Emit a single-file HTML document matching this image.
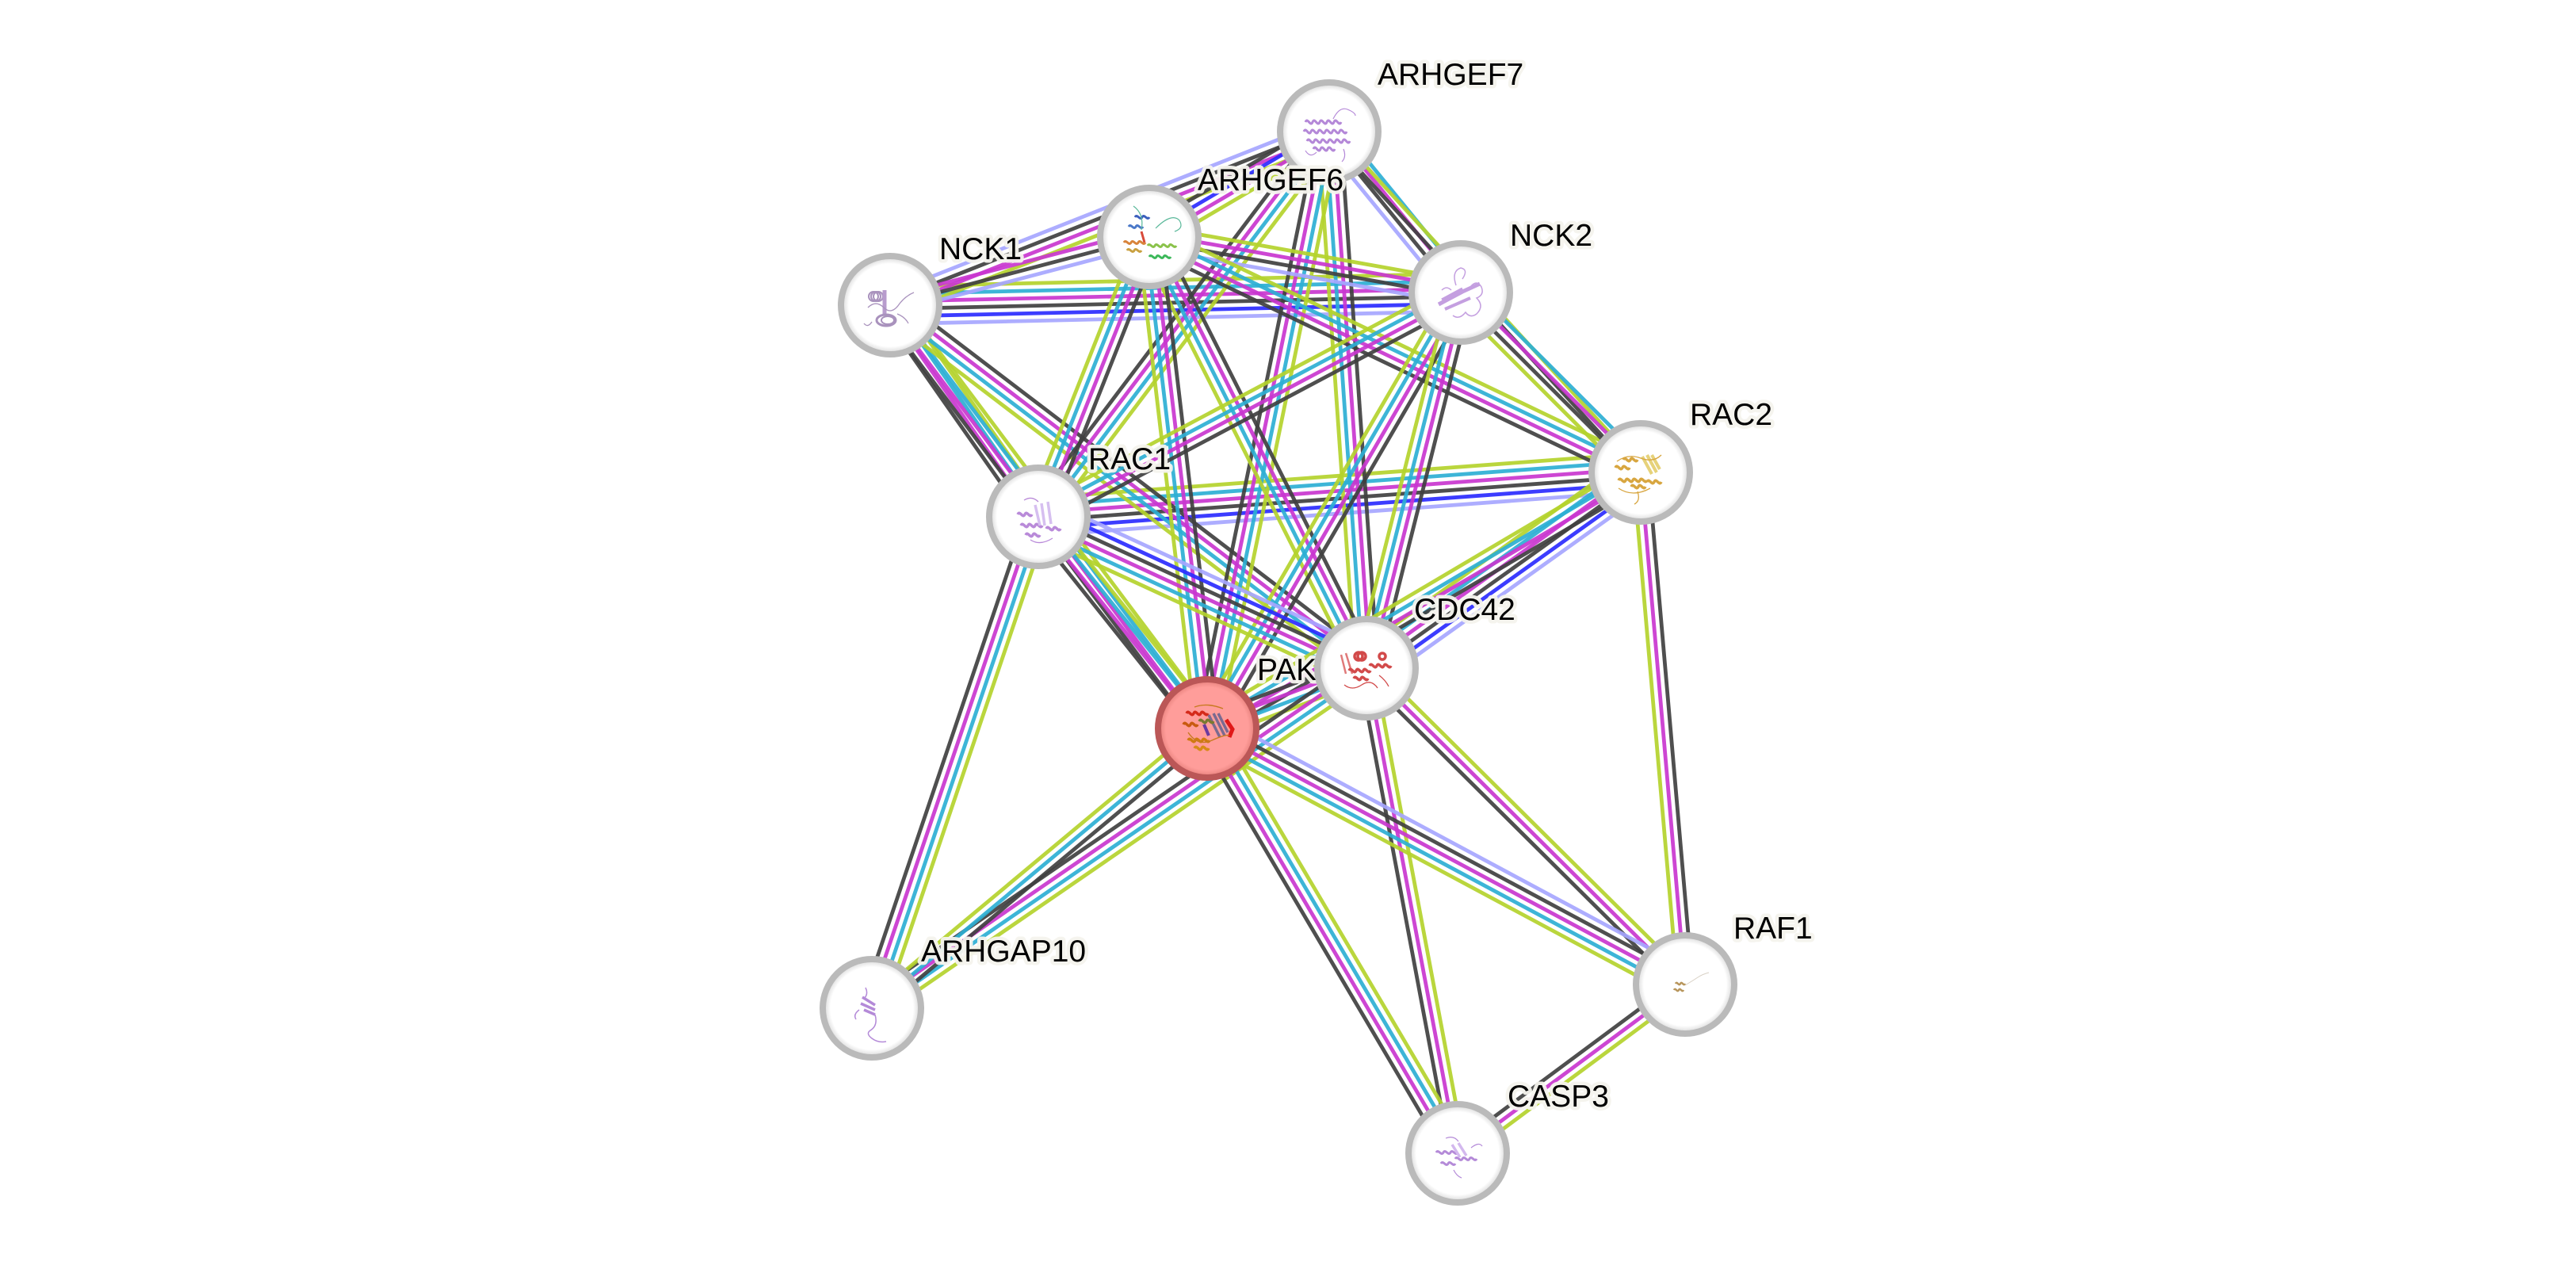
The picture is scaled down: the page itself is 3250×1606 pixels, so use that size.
<!DOCTYPE html>
<html>
<head>
<meta charset="utf-8">
<style>
  html,body{margin:0;padding:0;background:#fff;}
  svg{display:block;}
  line{stroke-width:4.8;stroke-opacity:0.92;}
  .k{stroke:#404040;}
  .m{stroke:#c936cf;}
  .c{stroke:#2dafd4;}
  .y{stroke:#b4d22c;}
  .b{stroke:#2b2bff;}
  .l{stroke:#a6a6ff;}
  .node{stroke:#bababa;stroke-width:8;fill:url(#gw);}
  .qnode{stroke:#bb5757;stroke-width:8;fill:url(#gp);}
  .lbl{font-family:"Liberation Sans",Arial,sans-serif;font-size:39px;fill:#000;
       stroke:rgba(244,243,237,0.95);stroke-width:9;paint-order:stroke;stroke-linejoin:round;}
</style>
</head>
<body>
<svg width="3250" height="1606" viewBox="0 0 3250 1606" xmlns="http://www.w3.org/2000/svg">
<defs>
  <radialGradient id="gw" cx="50%" cy="50%" r="50%">
    <stop offset="0%" stop-color="#ffffff"/>
    <stop offset="84%" stop-color="#ffffff"/>
    <stop offset="93%" stop-color="#e6e6e6"/>
    <stop offset="100%" stop-color="#cfcfcf"/>
  </radialGradient>
  <radialGradient id="gp" cx="50%" cy="50%" r="50%">
    <stop offset="0%" stop-color="#ff9d9a"/>
    <stop offset="84%" stop-color="#ff9d9a"/>
    <stop offset="93%" stop-color="#ef8a86"/>
    <stop offset="100%" stop-color="#d47070"/>
  </radialGradient>
</defs>
<rect width="3250" height="1606" fill="#fff"/>

<!-- ================= EDGES ================= -->
<g transform="translate(1123,385) rotate(-1.27)">
  <line class="y" x2="720" y1="-23.75" y2="-23.75"/><line class="c" x2="720" y1="-14.25" y2="-14.25"/>
  <line class="m" x2="720" y1="-4.75" y2="-4.75"/><line class="k" x2="720" y1="4.75" y2="4.75"/>
  <line class="b" x2="720" y1="14.25" y2="14.25"/><line class="l" x2="720" y1="23.75" y2="23.75"/>
</g>
<g transform="translate(1310,652) rotate(-4.21)">
  <line class="y" x2="762" y1="-23.75" y2="-23.75"/><line class="c" x2="762" y1="-14.25" y2="-14.25"/>
  <line class="m" x2="762" y1="-4.75" y2="-4.75"/><line class="k" x2="762" y1="4.75" y2="4.75"/>
  <line class="b" x2="762" y1="14.25" y2="14.25"/><line class="l" x2="762" y1="23.75" y2="23.75"/>
</g>
<g transform="translate(1123,385) rotate(-21.57)">
  <line class="l" x2="596" y1="-14.25" y2="-14.25"/><line class="k" x2="596" y1="-4.75" y2="-4.75"/>
  <line class="m" x2="596" y1="4.75" y2="4.75"/><line class="y" x2="596" y1="14.25" y2="14.25"/>
</g>
<g transform="translate(1123,385) rotate(-14.73)">
  <line class="m" x2="338" y1="-9.5" y2="-9.5"/><line class="k" x2="338" y1="0" y2="0"/>
  <line class="l" x2="338" y1="9.5" y2="9.5"/>
</g>
<g transform="translate(1310,652) rotate(-125.0)">
  <line class="k" x2="326" y1="-14.25" y2="-14.25"/><line class="m" x2="326" y1="-4.75" y2="-4.75"/>
  <line class="c" x2="326" y1="4.75" y2="4.75"/><line class="y" x2="326" y1="14.25" y2="14.25"/>
</g>
<g transform="translate(1523,919) rotate(-126.83)">
  <line class="k" x2="667" y1="-14.25" y2="-14.25"/><line class="m" x2="667" y1="-4.75" y2="-4.75"/>
  <line class="c" x2="667" y1="4.75" y2="4.75"/><line class="y" x2="667" y1="14.25" y2="14.25"/>
</g>
<g transform="translate(1123,385) rotate(37.31)">
  <line class="k" x2="756" y1="-14.25" y2="-14.25"/><line class="m" x2="756" y1="-4.75" y2="-4.75"/>
  <line class="c" x2="756" y1="4.75" y2="4.75"/><line class="y" x2="756" y1="14.25" y2="14.25"/>
</g>
<g transform="translate(1843,369) rotate(-129.28)">
  <line class="l" x2="262" y1="-14.25" y2="-14.25"/><line class="k" x2="262" y1="-4.75" y2="-4.75"/>
  <line class="m" x2="262" y1="4.75" y2="4.75"/><line class="c" x2="262" y1="14.25" y2="14.25"/>
</g>
<g transform="translate(2070,596) rotate(-132.43)">
  <line class="k" x2="583" y1="-4.75" y2="-4.75"/><line class="y" x2="583" y1="4.75" y2="4.75"/>
</g>
<g transform="translate(1724,843) rotate(-93.97)">
  <line class="y" x2="679" y1="-14.25" y2="-14.25"/><line class="c" x2="679" y1="-4.75" y2="-4.75"/>
  <line class="m" x2="679" y1="4.75" y2="4.75"/><line class="k" x2="679" y1="14.25" y2="14.25"/>
</g>
<g transform="translate(1523,919) rotate(-78.44)">
  <line class="k" x2="769" y1="-14.25" y2="-14.25"/><line class="m" x2="769" y1="-4.75" y2="-4.75"/>
  <line class="c" x2="769" y1="4.75" y2="4.75"/><line class="y" x2="769" y1="14.25" y2="14.25"/>
</g>
<g transform="translate(1310,652) rotate(-52.94)">
  <line class="k" x2="609" y1="-14.25" y2="-14.25"/><line class="m" x2="609" y1="-4.75" y2="-4.75"/>
  <line class="c" x2="609" y1="4.75" y2="4.75"/><line class="y" x2="609" y1="14.25" y2="14.25"/>
</g>
<g transform="translate(1450,299) rotate(-30.37)">
  <line class="k" x2="263" y1="-14.25" y2="-14.25"/><line class="b" x2="263" y1="-4.75" y2="-4.75"/>
  <line class="m" x2="263" y1="4.75" y2="4.75"/><line class="y" x2="263" y1="14.25" y2="14.25"/>
</g>
<g transform="translate(1450,299) rotate(10.10)">
  <line class="y" x2="399" y1="-14.25" y2="-14.25"/><line class="m" x2="399" y1="-4.75" y2="-4.75"/>
  <line class="k" x2="399" y1="4.75" y2="4.75"/><line class="l" x2="399" y1="14.25" y2="14.25"/>
</g>
<g transform="translate(1450,299) rotate(25.60)">
  <line class="y" x2="688" y1="-14.25" y2="-14.25"/><line class="c" x2="688" y1="-4.75" y2="-4.75"/>
  <line class="m" x2="688" y1="4.75" y2="4.75"/><line class="k" x2="688" y1="14.25" y2="14.25"/>
</g>
<g transform="translate(1724,843) rotate(-116.73)">
  <line class="y" x2="609" y1="-14.25" y2="-14.25"/><line class="c" x2="609" y1="-4.75" y2="-4.75"/>
  <line class="m" x2="609" y1="4.75" y2="4.75"/><line class="k" x2="609" y1="14.25" y2="14.25"/>
</g>
<g transform="translate(1523,919) rotate(-96.72)">
  <line class="y" x2="624" y1="-14.25" y2="-14.25"/><line class="c" x2="624" y1="-4.75" y2="-4.75"/>
  <line class="m" x2="624" y1="4.75" y2="4.75"/><line class="k" x2="624" y1="14.25" y2="14.25"/>
</g>
<g transform="translate(1310,652) rotate(-68.37)">
  <line class="y" x2="380" y1="-14.25" y2="-14.25"/><line class="c" x2="380" y1="-4.75" y2="-4.75"/>
  <line class="m" x2="380" y1="4.75" y2="4.75"/><line class="k" x2="380" y1="14.25" y2="14.25"/>
</g>
<g transform="translate(2070,596) rotate(-135)">
  <line class="y" x2="321" y1="-14.25" y2="-14.25"/><line class="k" x2="321" y1="-4.75" y2="-4.75"/>
  <line class="m" x2="321" y1="4.75" y2="4.75"/><line class="c" x2="321" y1="14.25" y2="14.25"/>
</g>
<g transform="translate(1310,652) rotate(-27.97)">
  <line class="y" x2="604" y1="-14.25" y2="-14.25"/><line class="c" x2="604" y1="-4.75" y2="-4.75"/>
  <line class="m" x2="604" y1="4.75" y2="4.75"/><line class="k" x2="604" y1="14.25" y2="14.25"/>
</g>
<g transform="translate(1523,919) rotate(-59.81)">
  <line class="y" x2="636" y1="-14.25" y2="-14.25"/><line class="c" x2="636" y1="-4.75" y2="-4.75"/>
  <line class="m" x2="636" y1="4.75" y2="4.75"/><line class="k" x2="636" y1="14.25" y2="14.25"/>
</g>
<g transform="translate(1724,843) rotate(-75.91)">
  <line class="y" x2="489" y1="-14.25" y2="-14.25"/><line class="c" x2="489" y1="-4.75" y2="-4.75"/>
  <line class="m" x2="489" y1="4.75" y2="4.75"/><line class="k" x2="489" y1="14.25" y2="14.25"/>
</g>
<g transform="translate(1310,652) rotate(24.77)">
  <line class="l" x2="456" y1="-23.75" y2="-23.75"/><line class="b" x2="456" y1="-14.25" y2="-14.25"/>
  <line class="k" x2="456" y1="-4.75" y2="-4.75"/><line class="m" x2="456" y1="4.75" y2="4.75"/>
  <line class="c" x2="456" y1="14.25" y2="14.25"/><line class="y" x2="456" y1="23.75" y2="23.75"/>
</g>
<g transform="translate(1523,919) rotate(-128.58)">
  <line class="k" x2="342" y1="-14.25" y2="-14.25"/><line class="m" x2="342" y1="-4.75" y2="-4.75"/>
  <line class="c" x2="342" y1="4.75" y2="4.75"/><line class="y" x2="342" y1="14.25" y2="14.25"/>
</g>
<g transform="translate(1100,1272) rotate(-71.29)">
  <line class="k" x2="655" y1="-14.25" y2="-14.25"/><line class="m" x2="655" y1="-4.75" y2="-4.75"/>
  <line class="c" x2="655" y1="4.75" y2="4.75"/><line class="y" x2="655" y1="14.25" y2="14.25"/>
</g>
<g transform="translate(1724,843) rotate(-35.52)">
  <line class="y" x2="425" y1="-23.75" y2="-23.75"/><line class="c" x2="425" y1="-14.25" y2="-14.25"/>
  <line class="m" x2="425" y1="-4.75" y2="-4.75"/><line class="k" x2="425" y1="4.75" y2="4.75"/>
  <line class="b" x2="425" y1="14.25" y2="14.25"/><line class="l" x2="425" y1="23.75" y2="23.75"/>
</g>
<g transform="translate(1523,919) rotate(-30.56)">
  <line class="y" x2="635" y1="-14.25" y2="-14.25"/><line class="c" x2="635" y1="-4.75" y2="-4.75"/>
  <line class="m" x2="635" y1="4.75" y2="4.75"/><line class="k" x2="635" y1="14.25" y2="14.25"/>
</g>
<g transform="translate(2126,1242) rotate(-94.95)">
  <line class="y" x2="648" y1="-9.5" y2="-9.5"/><line class="m" x2="648" y1="0" y2="0"/>
  <line class="k" x2="648" y1="9.5" y2="9.5"/>
</g>
<g transform="translate(1523,919) rotate(-20.71)">
  <line class="k" x2="215" y1="-14.25" y2="-14.25"/><line class="m" x2="215" y1="-4.75" y2="-4.75"/>
  <line class="c" x2="215" y1="4.75" y2="4.75"/><line class="y" x2="215" y1="14.25" y2="14.25"/>
</g>
<g transform="translate(1724,843) rotate(44.79)">
  <line class="y" x2="566" y1="-9.5" y2="-9.5"/><line class="m" x2="566" y1="0" y2="0"/>
  <line class="k" x2="566" y1="9.5" y2="9.5"/>
</g>
<g transform="translate(1839,1455) rotate(-100.64)">
  <line class="k" x2="623" y1="-9.5" y2="-9.5"/><line class="m" x2="623" y1="0" y2="0"/>
  <line class="y" x2="623" y1="9.5" y2="9.5"/>
</g>
<g transform="translate(1100,1272) rotate(-34.51)">
  <line class="k" x2="757" y1="-14.25" y2="-14.25"/><line class="m" x2="757" y1="-4.75" y2="-4.75"/>
  <line class="c" x2="757" y1="4.75" y2="4.75"/><line class="y" x2="757" y1="14.25" y2="14.25"/>
</g>
<g transform="translate(1100,1272) rotate(-39.84)">
  <line class="y" x2="551" y1="-9.5" y2="-9.5"/><line class="c" x2="551" y1="0" y2="0"/>
  <line class="k" x2="551" y1="9.5" y2="9.5"/>
</g>
<g transform="translate(1523,919) rotate(28.18)">
  <line class="l" x2="684" y1="-19" y2="-19"/><line class="k" x2="684" y1="-9.5" y2="-9.5"/>
  <line class="m" x2="684" y1="0" y2="0"/><line class="c" x2="684" y1="9.5" y2="9.5"/>
  <line class="y" x2="684" y1="19" y2="19"/>
</g>
<g transform="translate(1839,1455) rotate(-120.53)">
  <line class="k" x2="622" y1="-14.25" y2="-14.25"/><line class="m" x2="622" y1="-4.75" y2="-4.75"/>
  <line class="c" x2="622" y1="4.75" y2="4.75"/><line class="y" x2="622" y1="14.25" y2="14.25"/>
</g>
<g transform="translate(1839,1455) rotate(-36.58)">
  <line class="k" x2="357" y1="-9.5" y2="-9.5"/><line class="m" x2="357" y1="0" y2="0"/>
  <line class="y" x2="357" y1="9.5" y2="9.5"/>
</g>

<!-- ================= NODES ================= -->
<!-- ARHGEF7 -->
<g>
  <circle class="node" cx="1677" cy="166" r="62"/>
  <g transform="translate(1677,170)" fill="none" stroke="#b488d8" stroke-width="3">
    <path d="M-30,-16 c3,-7 6,7 9,0 s6,7 9,0 s6,7 9,0 s6,7 9,0 s6,7 9,0"/>
    <path d="M-32,-4 c3,-7 6,7 9,0 s6,7 9,0 s6,7 9,0 s6,7 9,0 s6,7 9,0 s6,7 9,0"/>
    <path d="M-28,8 c3,-7 6,7 9,0 s6,7 9,0 s6,7 9,0 s6,7 9,0 s6,7 9,0 s6,7 9,0"/>
    <path d="M-20,18 c3,-7 6,7 9,0 s6,7 9,0 s6,7 9,0"/>
    <path d="M5,-20 q8,-16 18,-12 t10,8" stroke-width="1.2"/>
    <path d="M-30,20 q6,10 14,2 M18,18 q4,10 -2,16" stroke-width="1.2"/>
  </g>
  <text class="lbl" x="1738" y="107">ARHGEF7</text>
</g>
<!-- NCK1 -->
<g>
  <circle class="node" cx="1123" cy="385" r="62"/>
  <g transform="translate(1120,388)" fill="none" stroke="#a992bd" stroke-width="2">
    <circle cx="-18" cy="-14" r="6"/><circle cx="-15" cy="-14" r="6"/><circle cx="-12" cy="-14" r="6"/>
    <path d="M-4,-22 v30" stroke-width="5" stroke="#b89ccd"/>
    <path d="M-25,0 q10,-10 20,0 t20,-5 q8,-10 18,-14" stroke-width="1.3"/>
    <ellipse cx="-2" cy="16" rx="12" ry="7" stroke-width="3"/>
    <ellipse cx="0" cy="16" rx="8" ry="5" stroke-width="2"/>
    <path d="M-30,20 q5,6 10,-2 M12,8 q10,4 14,12" stroke-width="1.3"/>
  </g>
  <text class="lbl" x="1185" y="327">NCK1</text>
</g>
<!-- NCK2 -->
<g>
  <circle class="node" cx="1843" cy="369" r="62"/>
  <g transform="translate(1845,370)" fill="none" stroke="#c49fe0" stroke-width="1.5">
    <path d="M-30,14 l30,-16 l22,-10" stroke-width="5"/>
    <path d="M-22,20 l32,-14" stroke-width="4"/>
    <path d="M-26,8 l26,-14" stroke-width="3"/>
    <path d="M-8,-10 q-6,-18 6,-22 q10,2 2,14 M10,-8 q8,-10 14,0 q4,10 -6,14 q10,10 0,20 q-8,6 -14,-2 q-8,10 -16,4"/>
    <path d="M-26,-4 q6,-6 12,0"/>
  </g>
  <text class="lbl" x="1905" y="310">NCK2</text>
</g>
<!-- RAC2 -->
<g>
  <circle class="node" cx="2070" cy="596" r="62"/>
  <g transform="translate(2066,598)" fill="none" stroke="#d8a640" stroke-width="3.5">
    <path d="M-28,-8 c3,-6 6,6 9,0 s6,6 9,0"/>
    <path d="M-24,8 c3,-6 6,6 9,0 s6,6 9,0 s6,6 9,0 s6,6 9,0"/>
    <path d="M-18,-18 c3,-6 6,6 9,0 s6,6 9,0"/>
    <path d="M6,-22 l12,22 M12,-24 l12,22 M18,-24 l10,18" stroke="#e6d27a" stroke-width="4"/>
    <path d="M-26,-16 q14,-10 30,-4 t26,-4 M-24,18 q18,12 40,0 M0,22 q4,12 -4,16" stroke-width="1.3"/>
    <path d="M12,10 c3,-6 6,6 9,0 s6,6 9,0"/>
    <path d="M-8,16 c3,-6 6,6 9,0 s6,6 9,0"/>
  </g>
  <text class="lbl" x="2132" y="536">RAC2</text>
</g>
<!-- RAC1 -->
<g>
  <circle class="node" cx="1310" cy="652" r="62"/>
  <g transform="translate(1310,655)" fill="none" stroke="#b98ad9" stroke-width="3.5">
    <path d="M-26,-6 c3,-6 6,6 9,0 s6,6 9,0"/>
    <path d="M-22,8 c3,-6 6,6 9,0 s6,6 9,0 s6,6 9,0"/>
    <path d="M4,-20 l4,28 M12,-22 l4,28 M-4,-18 l6,26" stroke="#d6bff0" stroke-width="3.5"/>
    <path d="M10,12 c3,-6 6,6 9,0 s6,6 9,0"/>
    <path d="M-16,20 c3,-6 6,6 9,0 s6,6 9,0"/>
    <path d="M-18,-24 q10,-6 18,2 M-10,26 q12,8 28,-2" stroke-width="1.3"/>
  </g>
  <text class="lbl" x="1373" y="592">RAC1</text>
</g>
<!-- PAK (query) -->
<g>
  <circle class="qnode" cx="1523" cy="919" r="62"/>
  <g transform="translate(1525,918)" fill="none" stroke-width="3.5">
    <path d="M-28,-18 c3,-6 6,6 9,0 s6,6 9,0 s6,6 9,0" stroke="#d42a1a"/>
    <path d="M-32,-4 c3,-6 6,6 9,0 s6,6 9,0" stroke="#c85a10"/>
    <path d="M-26,16 c3,-6 6,6 9,0 s6,6 9,0 s6,6 9,0" stroke="#d07a10"/>
    <path d="M-18,26 c3,-6 6,6 9,0 s6,6 9,0" stroke="#d88a18"/>
    <path d="M0,-16 l14,28 M6,-18 l14,28 M12,-18 l12,24" stroke="#7b6a90" stroke-width="3.5"/>
    <path d="M22,-10 l8,12 l-4,10" stroke="#e01818" stroke-width="5"/>
    <path d="M-6,-4 l6,14" stroke="#6a3aa0" stroke-width="4"/>
    <path d="M-26,6 q12,18 30,10 t22,-6 M-18,-26 q16,-6 36,2" stroke="#c87a20" stroke-width="1.4"/>
    <path d="M-12,-8 c3,-6 6,6 9,0 s6,6 9,0" stroke="#7a7a30"/>
  </g>
  <text class="lbl" x="1586" y="858">PAK</text>
</g>
<!-- ARHGEF6 -->
<g>
  <circle class="node" cx="1450" cy="299" r="62"/>
  <g transform="translate(1450,300)" fill="none" stroke-width="3">
    <path d="M-18,-26 c3,-5 6,5 9,0 s6,5 9,0" stroke="#3b5fbd"/>
    <path d="M-26,-14 c3,-5 6,5 9,0 s6,5 9,0" stroke="#4a78c8"/>
    <path d="M-10,-8 l4,14" stroke="#d84a3a" stroke-width="3"/>
    <path d="M-32,6 c3,-5 6,5 9,0 s6,5 9,0 s6,5 9,0" stroke="#d8833a"/>
    <path d="M-28,16 c3,-5 6,5 9,0 s6,5 9,0" stroke="#c9a040"/>
    <path d="M-2,10 c3,-5 6,5 9,0 s6,5 9,0 s6,5 9,0 s6,5 9,0" stroke="#8ac24a"/>
    <path d="M0,24 c3,-5 6,5 9,0 s6,5 9,0 s6,5 9,0" stroke="#3cb85a"/>
    <path d="M-20,-40 q14,10 10,30 M8,-12 q20,-20 30,-10 q6,10 -6,14" stroke="#5ab89a" stroke-width="1.2"/>
  </g>
  <text class="lbl" x="1511" y="240">ARHGEF6</text>
</g>
<!-- CDC42 -->
<g>
  <circle class="node" cx="1724" cy="843" r="62"/>
  <g transform="translate(1722,842)" fill="none" stroke="#d24a4a" stroke-width="3.5">
    <path d="M-30,-16 l6,24 M-24,-18 l8,26" stroke="#e07a7a" stroke-width="2.5"/>
    <circle cx="-8" cy="-14" r="5"/><circle cx="-4" cy="-14" r="5"/>
    <circle cx="22" cy="-14" r="4"/>
    <path d="M-20,4 c3,-6 6,6 9,0 s6,6 9,0 s6,6 9,0"/>
    <path d="M6,-2 c3,-6 6,6 9,0 s6,6 9,0 s6,6 9,0"/>
    <path d="M-14,14 c3,-6 6,6 9,0 s6,6 9,0"/>
    <path d="M-26,22 q10,8 22,0 t20,4 M18,10 q8,6 12,14" stroke-width="1.3"/>
  </g>
  <text class="lbl" x="1784" y="782">CDC42</text>
</g>
<!-- ARHGAP10 -->
<g>
  <circle class="node" cx="1100" cy="1272" r="62"/>
  <g transform="translate(1098,1272)" fill="none" stroke="#b48ad8" stroke-width="1.5">
    <path d="M-10,-14 l16,10 M-12,-6 l18,8 M-8,2 l14,6" stroke-width="3.5"/>
    <path d="M-6,-26 q4,8 -2,14 M6,8 q4,14 -6,20 q-6,4 2,10 q8,6 18,4 M-14,2 q-8,6 -4,12"/>
  </g>
  <text class="lbl" x="1162" y="1213">ARHGAP10</text>
</g>
<!-- RAF1 -->
<g>
  <circle class="node" cx="2126" cy="1242" r="62"/>
  <g transform="translate(2122,1245)" fill="none" stroke="#b8965c" stroke-width="2.5">
    <path d="M-8,-4 c2,-4 4,4 6,0 s4,4 6,0"/>
    <path d="M-10,4 c2,-4 4,4 6,0 s4,4 6,0"/>
    <path d="M4,-2 q10,-6 16,-10 t14,-6" stroke="#d8d0c4" stroke-width="1"/>
  </g>
  <text class="lbl" x="2187" y="1184">RAF1</text>
</g>
<!-- CASP3 -->
<g>
  <circle class="node" cx="1839" cy="1455" r="62"/>
  <g transform="translate(1838,1458)" fill="none" stroke="#b48ad8" stroke-width="3">
    <path d="M-26,-4 c3,-5 6,5 9,0 s6,5 9,0 s6,5 9,0"/>
    <path d="M-2,4 c3,-5 6,5 9,0 s6,5 9,0 s6,5 9,0"/>
    <path d="M-20,10 c3,-5 6,5 9,0 s6,5 9,0"/>
    <path d="M-6,-14 l10,16 M2,-16 l10,16" stroke="#d3b8ee" stroke-width="3.5"/>
    <path d="M-14,-22 q10,-4 16,4 M18,-10 q10,-8 14,-2 M-4,18 q4,8 10,10" stroke-width="1.2"/>
  </g>
  <text class="lbl" x="1902" y="1396">CASP3</text>
</g>
</svg>
</body>
</html>
